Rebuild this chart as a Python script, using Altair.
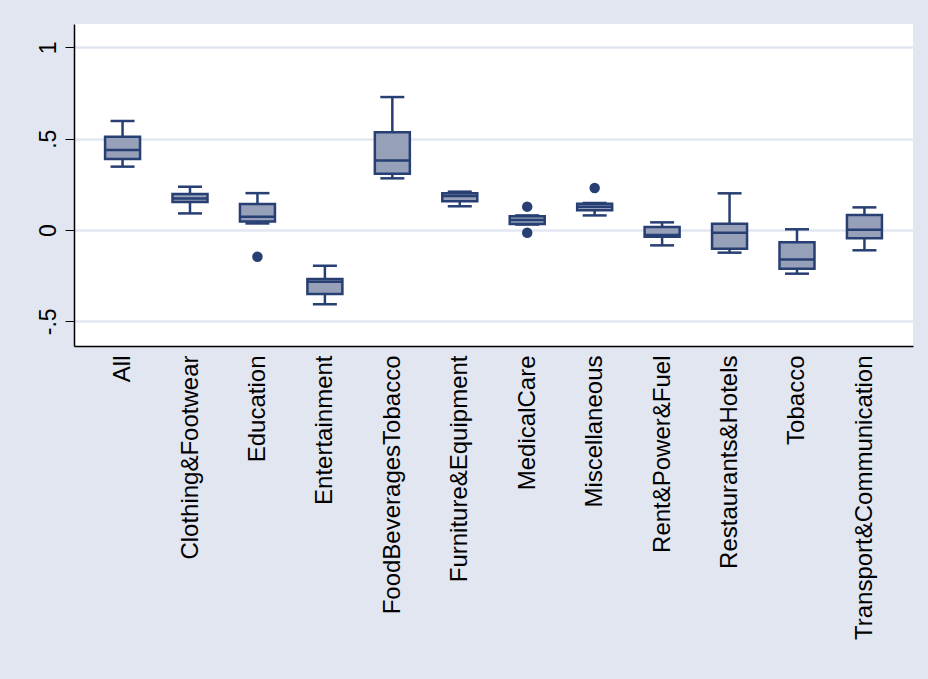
import altair as alt
import pandas as pd

# Box summaries per expenditure category
categories = ["All", "Clothing&Footwear", "Education", "Entertainment",
              "FoodBeveragesTobacco", "Furniture&Equipment", "MedicalCare",
              "Miscellaneous", "Rent&Power&Fuel", "Restaurants&Hotels",
              "Tobacco", "Transport&Communication"]
lower_whisker = [0.347, 0.091, 0.036, -0.407, 0.283, 0.130, 0.030, 0.080, -0.084, -0.124, -0.239, -0.111]
q1 = [0.389, 0.153, 0.047, -0.350, 0.308, 0.157, 0.033, 0.108, -0.037, -0.102, -0.212, -0.045]
median = [0.438, 0.173, 0.073, -0.283, 0.381, 0.186, 0.055, 0.128, -0.027, -0.015, -0.162, 0.002]
q3 = [0.511, 0.197, 0.142, -0.268, 0.535, 0.201, 0.075, 0.144, 0.016, 0.035, -0.067, 0.082]
upper_whisker = [0.597, 0.237, 0.202, -0.195, 0.728, 0.210, 0.080, 0.148, 0.042, 0.201, 0.004, 0.124]

# Outside values
outlier_category = ["Education", "MedicalCare", "MedicalCare", "Miscellaneous"]
outlier_value = [-0.146, 0.128, -0.015, 0.230]

# Y axis ticks
tick_values = [-0.5, 0, 0.5, 1]
tick_labels = ["-.5", "0", ".5", "1"]

boxes = pd.DataFrame({
    "category": categories, "lower": lower_whisker, "q1": q1,
    "median": median, "q3": q3, "upper": upper_whisker,
})
outliers = pd.DataFrame({"category": outlier_category, "value": outlier_value})

NAVY = "#273f72"
FILL = "#96a0b8"
BG = "#e1e6f0"
FONT = "Liberation Sans"

label_expr = " : ".join(
    f"datum.value == {v} ? '{l}'" for v, l in zip(tick_values, tick_labels)
) + " : datum.label"

x_enc = alt.X(
    "category:N", sort=categories, title=None,
    scale=alt.Scale(type="point", padding=0.72),
    axis=alt.Axis(labelAngle=-90, labelAlign="right", labelBaseline="middle",
                  labelPadding=9, ticks=False, domainColor="black",
                  domainWidth=1.5, labelFont=FONT, labelFontSize=24,
                  labelColor="black", labelLimit=0, grid=False),
)
y_scale = alt.Scale(domain=[-0.635, 1.128], nice=False, zero=False)
y_axis = alt.Axis(values=tick_values, labelExpr=label_expr, labelAngle=-90,
                  labelAlign="center", labelBaseline="alphabetic",
                  labelPadding=10, tickSize=9, tickColor="black", tickWidth=1,
                  domainColor="black", domainWidth=1.5, grid=True,
                  gridColor="#e3e7f2", gridWidth=2.5, labelFont=FONT,
                  labelFontSize=23, labelColor="black", title=None)

base = alt.Chart(boxes)

whisker_low = base.mark_rule(color=NAVY, strokeWidth=2.5, opacity=1).encode(
    x=x_enc, y=alt.Y("lower:Q", scale=y_scale, axis=y_axis), y2="q1:Q")
whisker_high = base.mark_rule(color=NAVY, strokeWidth=2.5, opacity=1).encode(
    x=x_enc, y=alt.Y("q3:Q", scale=y_scale, axis=y_axis), y2="upper:Q")
cap_low = base.mark_tick(color=NAVY, size=24, thickness=2.5, orient="horizontal", opacity=1).encode(
    x=x_enc, y=alt.Y("lower:Q", scale=y_scale, axis=y_axis))
cap_high = base.mark_tick(color=NAVY, size=24, thickness=2.5, orient="horizontal", opacity=1).encode(
    x=x_enc, y=alt.Y("upper:Q", scale=y_scale, axis=y_axis))
box = base.mark_bar(size=35, fill=FILL, stroke=NAVY, strokeWidth=2.5, opacity=1).encode(
    x=x_enc, y=alt.Y("q1:Q", scale=y_scale, axis=y_axis), y2="q3:Q")
mid = base.mark_tick(color=NAVY, size=35, thickness=2.5, orient="horizontal", opacity=1).encode(
    x=x_enc, y=alt.Y("median:Q", scale=y_scale, axis=y_axis))
dots = alt.Chart(outliers).mark_point(filled=True, color=NAVY, size=110, opacity=1).encode(
    x=x_enc, y=alt.Y("value:Q", scale=y_scale, axis=y_axis))

chart = alt.layer(
    whisker_low, whisker_high, cap_low, cap_high, box, mid, dots
).properties(
    width=839, height=322,
    autosize=alt.AutoSizeParams(type="none"),
    padding={"left": 74, "top": 24, "right": 15, "bottom": 333},
    background=BG,
).configure_view(fill="white", stroke=None)

chart.save("out.html", embed_options={"renderer": "svg", "actions": False})
